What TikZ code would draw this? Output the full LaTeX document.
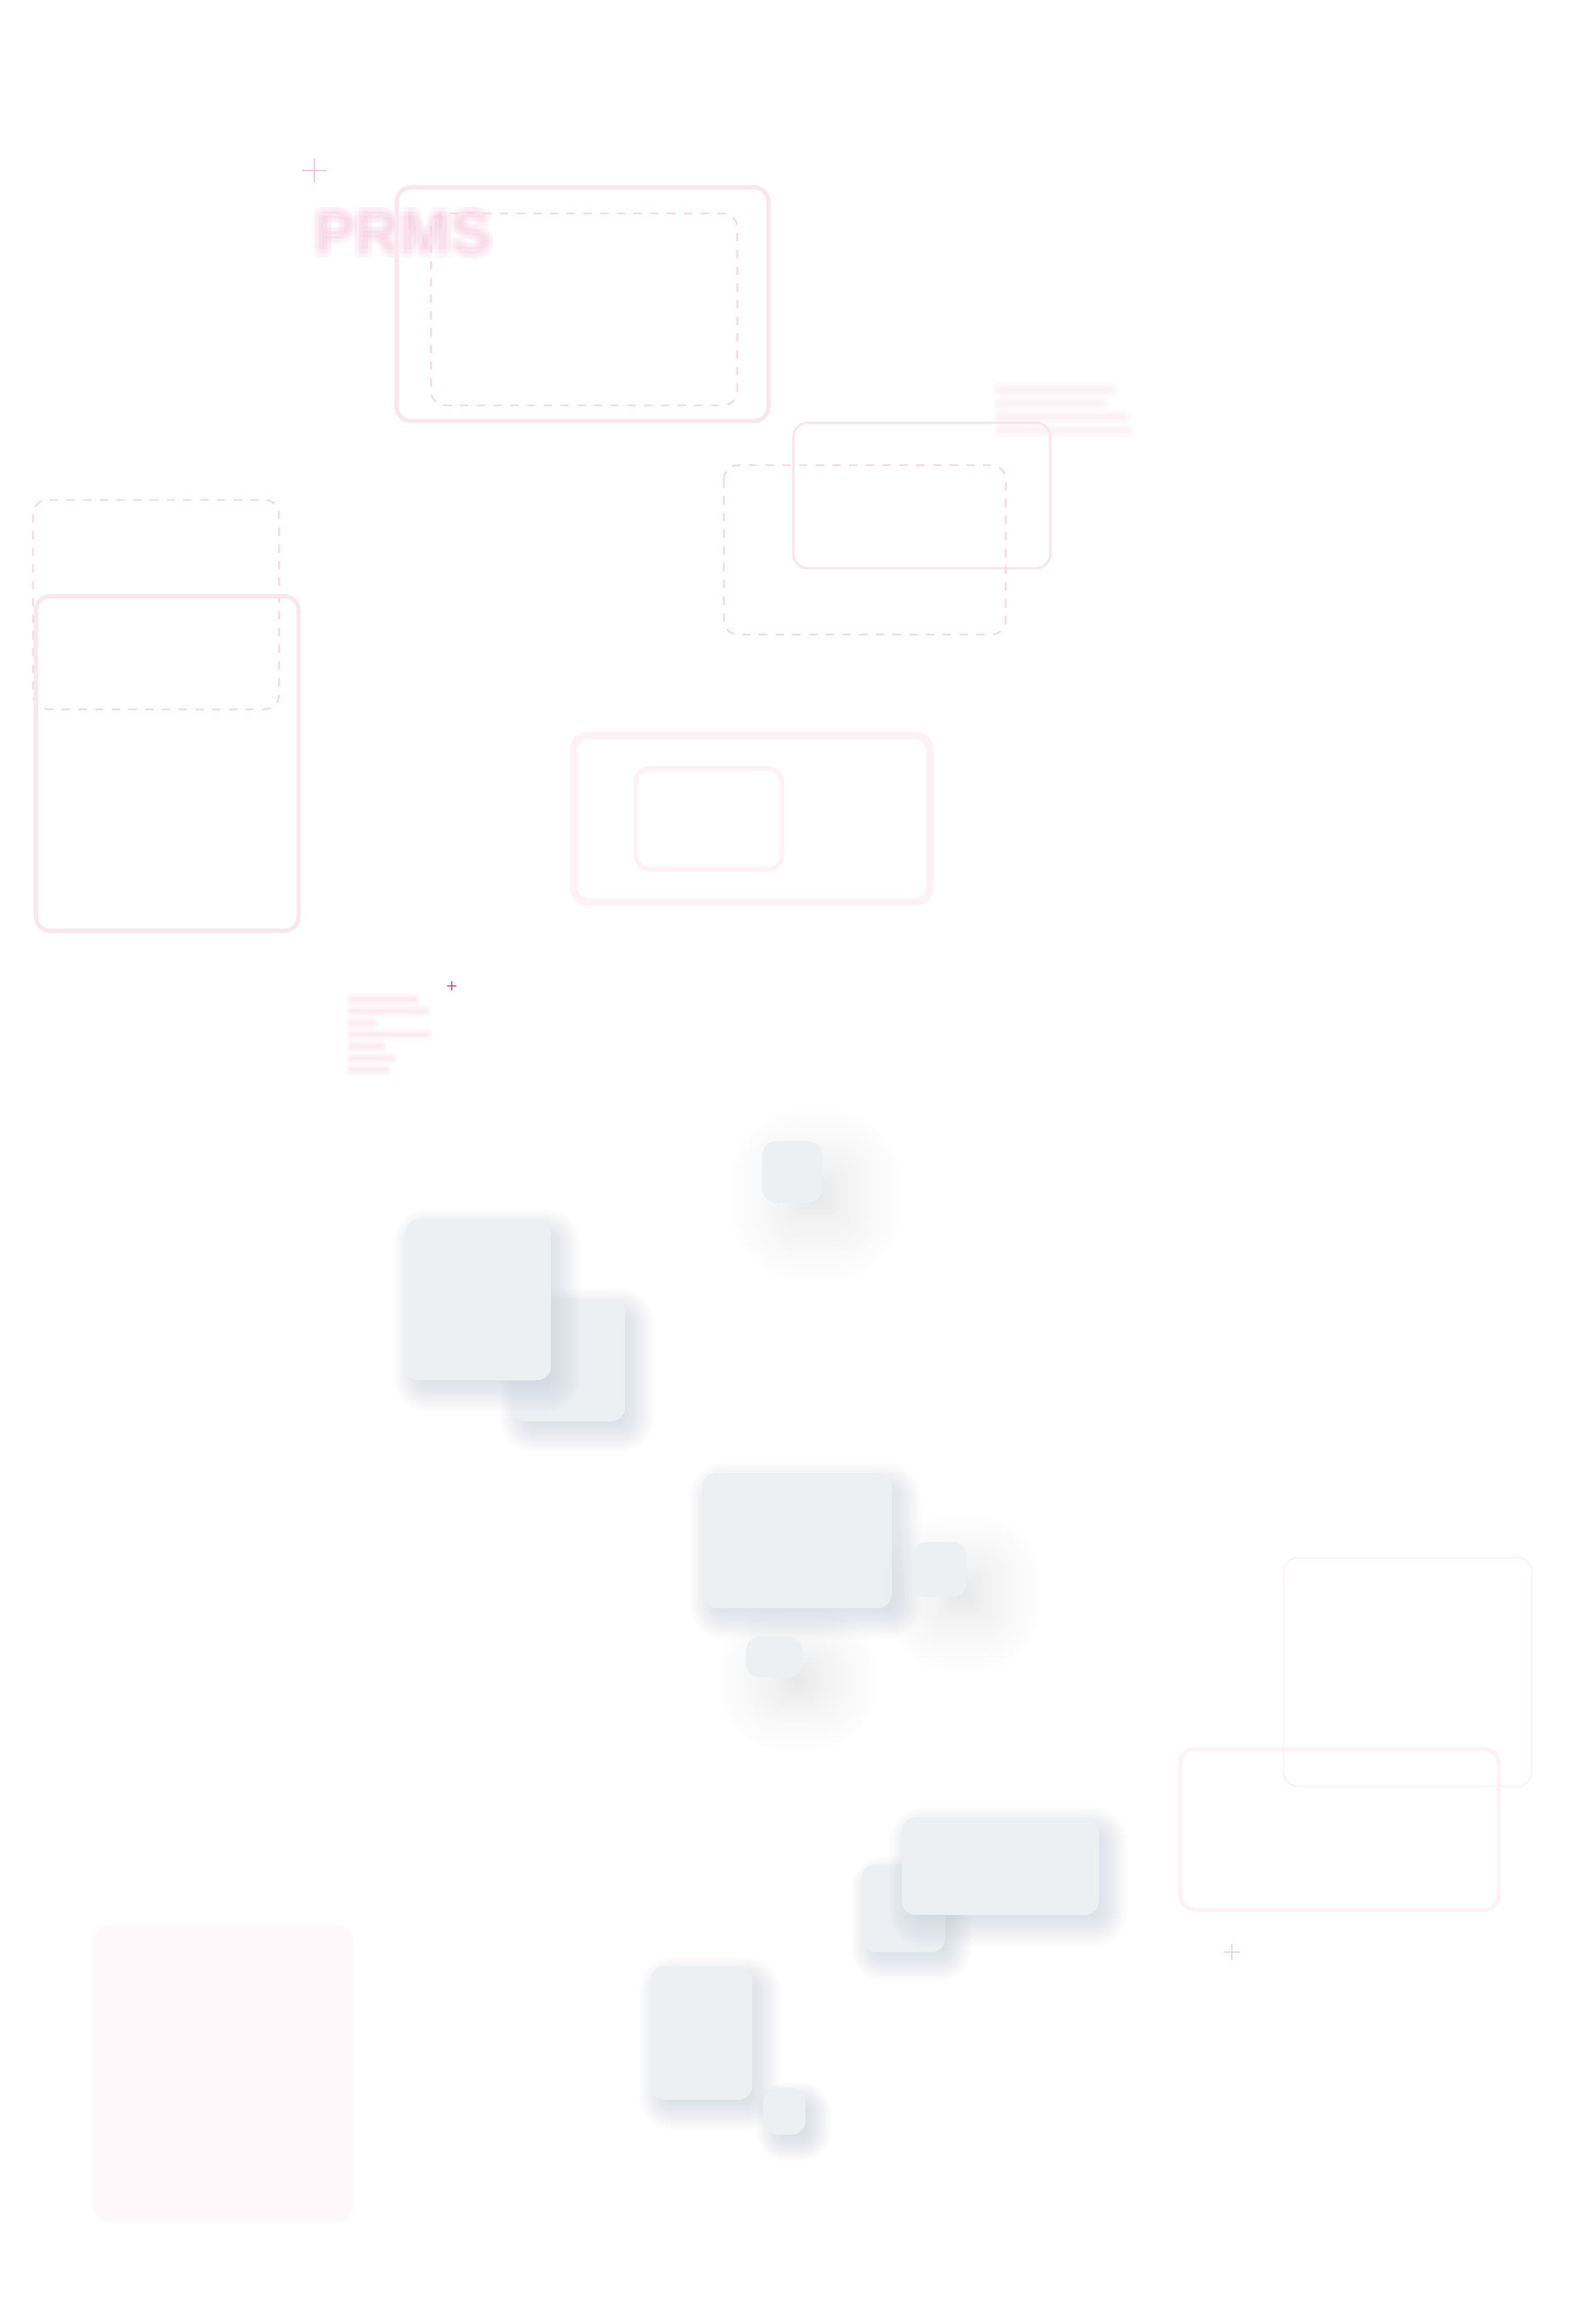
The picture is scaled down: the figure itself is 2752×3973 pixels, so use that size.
\documentclass[tikz,border=0pt]{standalone}
\usepackage{fontspec}
\setsansfont{Liberation Sans}
\definecolor{framepink}{RGB}{252,230,237}
\definecolor{dashpink}{RGB}{250,212,225}
\definecolor{thinpink}{RGB}{251,229,236}
\definecolor{palepink}{RGB}{255,242,246}
\definecolor{fillpink}{RGB}{254,248,250}
\definecolor{textpink}{RGB}{246,175,202}
\definecolor{crosspink}{RGB}{246,190,210}
\definecolor{hotpink}{RGB}{232,72,124}
\definecolor{tilegrey}{RGB}{236,240,243}
\definecolor{shadowgrey}{RGB}{160,170,185}

\begin{document}
\begin{tikzpicture}[x=0.01cm,y=-0.01cm,
  frame/.style={draw=framepink,line width=2pt,rounded corners=7pt},
  thinframe/.style={draw=thinpink,line width=1.1pt,rounded corners=7pt},
  dashframe/.style={draw=dashpink,line width=.85pt,rounded corners=7pt,dash pattern=on 4.1pt off 4.1pt},
  paleframe/.style={draw=palepink,rounded corners=7pt},
  tile/.style={fill=tilegrey,rounded corners=6.8pt},
  shadowlayer/.style={fill=shadowgrey},
  crossline/.style={line width=.7pt},
  blurbar/.style={draw=textpink,line cap=round,opacity=.05},
  prmsblur/.style={text=textpink,text opacity=.07,font=\sffamily\bfseries\fontsize{30}{34}\selectfont,inner sep=0pt}]
\fill[white] (0,0) rectangle (2752,3973);

\draw[crosspink,crossline] (542,273) -- (542,315) (521,294) -- (563,294);
\foreach \dx in {-7,0,7}
  \foreach \dy in {-7,0,7}
    \node[prmsblur] (prms\dx\dy) at (695+\dx,401+\dy) {PRMS};
\draw[frame] (684,323) rectangle (1325,726);
\draw[dashframe] (743,368) rectangle (1271,699);

\foreach \y/\len in {672/214,696/197,719/235,743/244}{
  \draw[blurbar,line width=7pt] (1724,\y) -- ++(\len-22,0);
  \draw[blurbar,line width=4.5pt] (1724,\y) -- ++(\len-22,0);
  \draw[blurbar,line width=2pt] (1724,\y) -- ++(\len-22,0);
}
\draw[thinframe] (1368,729) rectangle (1811,980);
\draw[dashframe] (1248,802) rectangle (1734,1094);

\draw[dashframe] (57,862) rectangle (481,1223);
\draw[frame] (62,1028) rectangle (515,1605);

\draw[paleframe,line width=3.7pt] (989,1268) rectangle (1603,1555);
\draw[paleframe,line width=2.3pt] (1096,1325) rectangle (1348,1499);

\draw[hotpink,crossline] (779,1692) -- (779,1708) (771,1700) -- (787,1700);
\foreach \y/\len in {1723/128,1743/145,1764/55,1784/148,1804/70,1825/88,1845/78}{
  \draw[blurbar,opacity=.08,line width=5.5pt] (606,\y) -- ++(\len-18,0);
  \draw[blurbar,opacity=.08,line width=3.4pt] (606,\y) -- ++(\len-18,0);
  \draw[blurbar,opacity=.08,line width=1.6pt] (606,\y) -- ++(\len-18,0);
}

% tiles: corners, shadow shift, shadow spread, layer opacity
\foreach \xa/\ya/\xb/\yb/\sx/\sy/\r/\op in {
    1314/1968/1418/2074/40/40/95/.009,
    883/2239/1078/2451/14/18/36/.016,
    699/2102/950/2380/14/18/36/.016,
    1211/2540/1538/2773/14/18/36/.016,
    1573/2659/1667/2754/40/40/88/.009,
    1286/2822/1384/2892/40/40/88/.009,
    1485/3215/1630/3366/14/18/32/.015,
    1555/3134/1895/3302/14/18/36/.016,
    1122/3390/1297/3621/14/18/34/.015,
    1316/3600/1389/3681/16/18/28/.014}{
  \foreach \k in {0,...,23}{
    \pgfmathsetmacro\e{-\r+2*\r*\k/23}
    \pgfmathsetmacro\xl{\xa+\sx-\e}
    \pgfmathsetmacro\yl{\ya+\sy-\e}
    \pgfmathsetmacro\xh{\xb+\sx+\e}
    \pgfmathsetmacro\yh{\yb+\sy+\e}
    \pgfmathsetmacro\rc{max(1,24+\e)*0.2845}
    \fill[shadowlayer,opacity=\op,rounded corners=\rc pt] (\xl,\yl) rectangle (\xh,\yh);
  }
  \fill[tile] (\xa,\ya) rectangle (\xb,\yb);
}

\draw[paleframe,line width=.85pt] (2213,2686) rectangle (2641,3080);
\draw[paleframe,line width=2pt] (2035,3016) rectangle (2584,3293);
\draw[crosspink!80!white,crossline] (2124,3352) -- (2124,3380) (2110,3366) -- (2138,3366);

\fill[fillpink,rounded corners=7.5pt] (160,3321) rectangle (609,3831);
\end{tikzpicture}
\end{document}
